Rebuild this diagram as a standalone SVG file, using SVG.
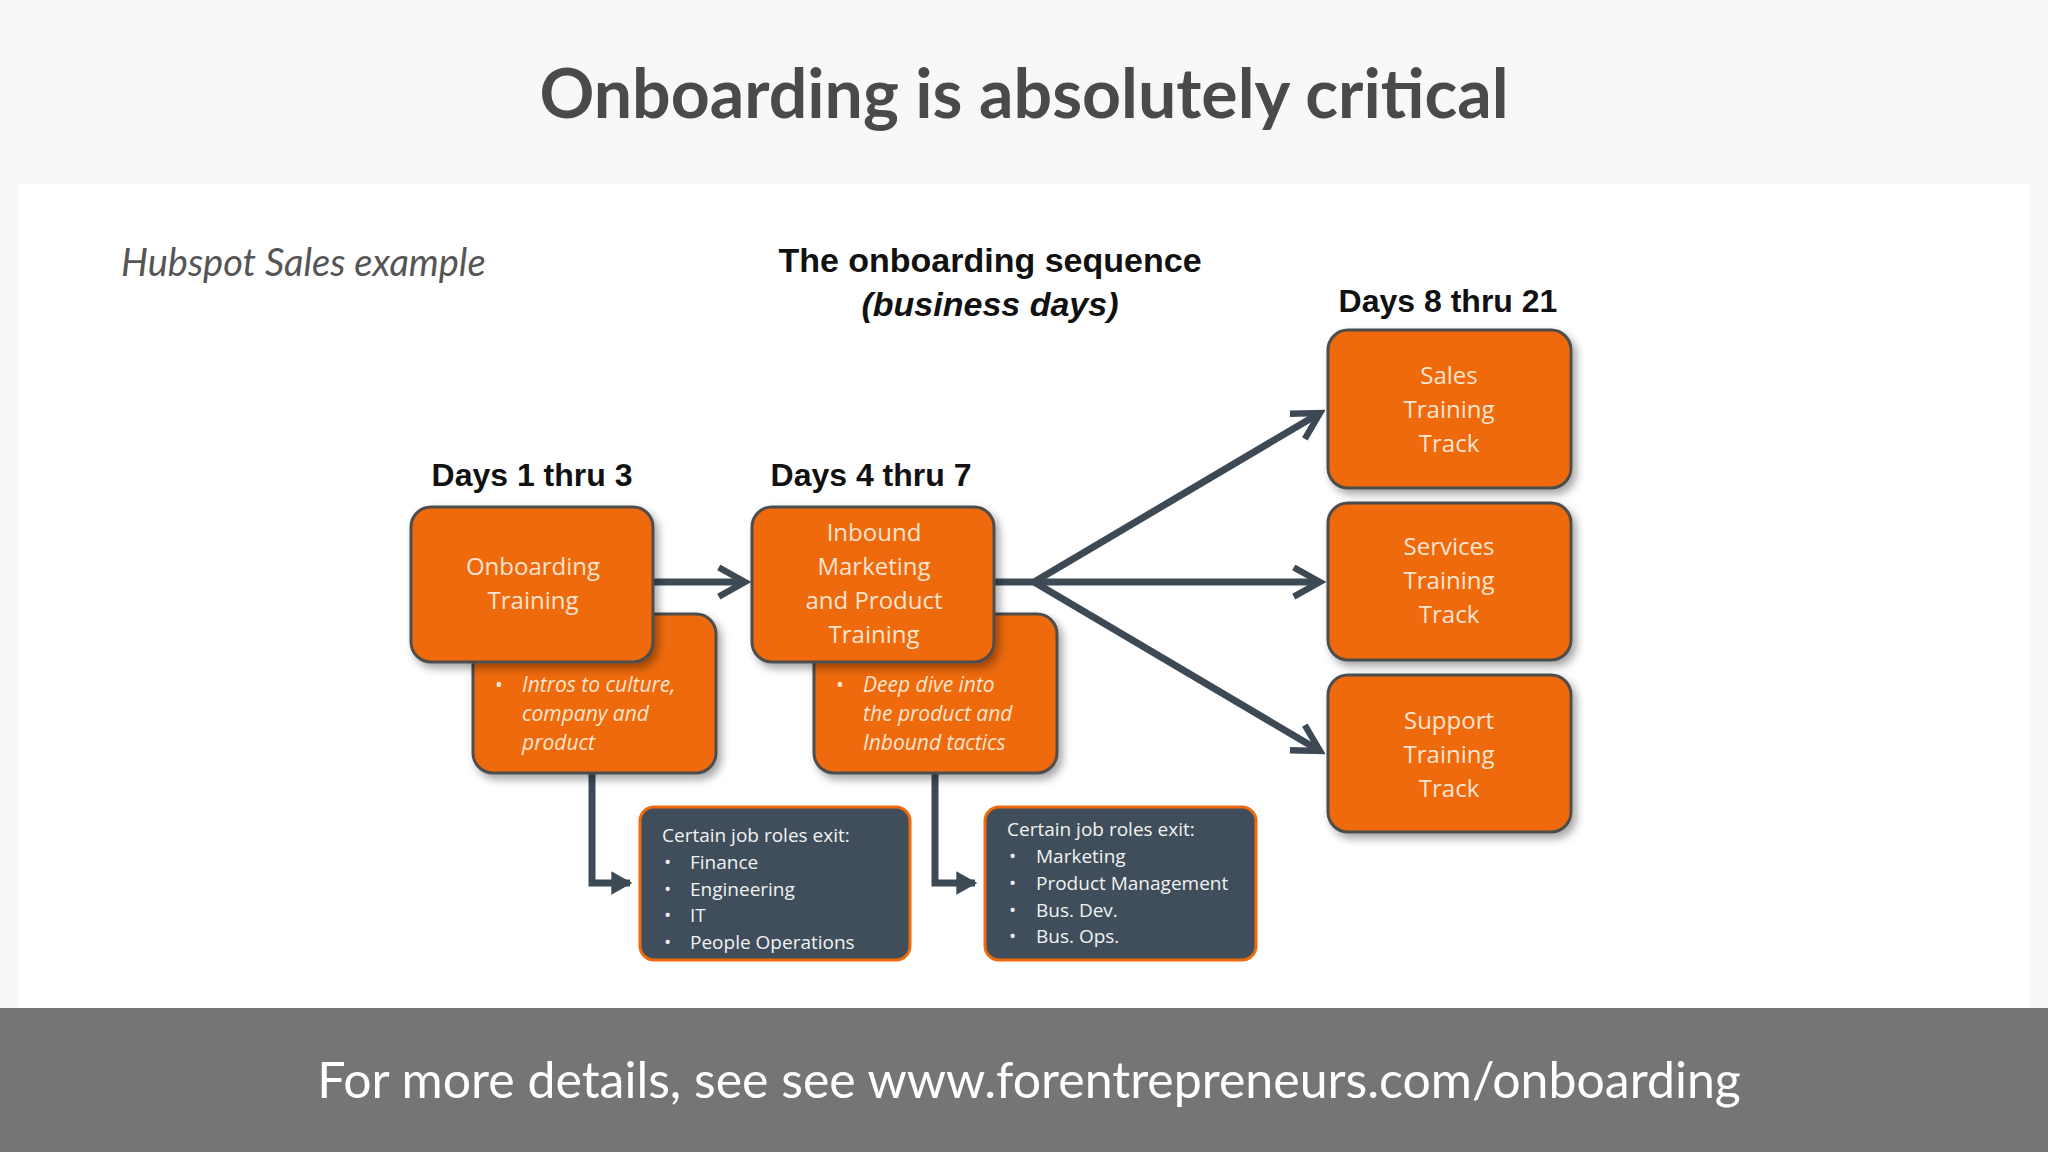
<svg xmlns="http://www.w3.org/2000/svg" width="2048" height="1152" viewBox="0 0 2048 1152">
<defs>
<filter id="sh" x="-20%" y="-20%" width="150%" height="150%"><feDropShadow dx="4" dy="5" stdDeviation="4" flood-color="#000" flood-opacity="0.35"/></filter>
<marker id="ah" viewBox="0 0 12 12" refX="10" refY="6" markerWidth="5" markerHeight="5" orient="auto" markerUnits="strokeWidth"><path d="M1,1 L10,6 L1,11" fill="none" stroke="#3d4a55" stroke-width="2.2"/></marker>
<marker id="ah2" viewBox="0 0 12 12" refX="10" refY="6" markerWidth="4" markerHeight="4" orient="auto" markerUnits="strokeWidth"><path d="M2,1 L11,6 L2,11 Z" fill="#3d4a55"/></marker>
</defs>
<style>
.ob{fill:#ee6a0a;stroke:#4d4d4d;stroke-width:3;filter:url(#sh)}
.db{fill:#3f4e5a;stroke:#ee6a0a;stroke-width:3}
.bt{font-family:"Open Sans","Noto Sans",sans-serif;font-size:24px;fill:#fde4cf;text-anchor:middle}
.it{font-family:"Open Sans","Noto Sans",sans-serif;font-size:21px;fill:#fde4cf;font-style:italic}
.dt{font-family:"Open Sans","Noto Sans",sans-serif;font-size:19px;fill:#f2f2f2}
.hd{font-family:"Liberation Sans",Arial,sans-serif;font-weight:bold;fill:#111;text-anchor:middle}
.cn{fill:none;stroke:#3d4a55;stroke-width:7}
</style>
<rect width="2048" height="1152" fill="#f7f8fa"/>
<rect x="18" y="184" width="2012" height="824" fill="#ffffff"/>
<rect x="0" y="1008" width="2048" height="144" fill="#757575"/>
<text x="1024" y="118" font-family="Lato,sans-serif" font-weight="bold" font-size="68" fill="#4a4a4a" text-anchor="middle">Onboarding is absolutely critical</text>
<text x="1029" y="1098" font-family="Lato,sans-serif" font-size="50" fill="#ffffff" text-anchor="middle">For more details, see see www.forentrepreneurs.com/onboarding</text>
<text x="121" y="276" font-family="Lato,sans-serif" font-style="italic" font-size="38" fill="#555">Hubspot Sales example</text>
<text x="990" y="272" class="hd" font-size="34">The onboarding sequence</text>
<text x="990" y="316" class="hd" font-size="34" font-style="italic">(business days)</text>
<text x="1448" y="312" class="hd" font-size="32">Days 8 thru 21</text>
<text x="532" y="486" class="hd" font-size="32">Days 1 thru 3</text>
<text x="871" y="486" class="hd" font-size="32">Days 4 thru 7</text>
<g id="connectors">
<path class="cn" d="M653,582 H745" marker-end="url(#ah)"/>
<path class="cn" d="M995,582 L1034,582 L1320,413" marker-end="url(#ah)"/>
<path class="cn" d="M1034,582 H1320" marker-end="url(#ah)"/>
<path class="cn" d="M1034,582 L1320,751" marker-end="url(#ah)"/>
<path class="cn" d="M592,773 V883 H630" marker-end="url(#ah2)"/>
<path class="cn" d="M935,773 V883 H975" marker-end="url(#ah2)"/>
</g>
<g id="sub1"><rect class="ob" x="473" y="614" width="243" height="159" rx="20"/>
<text class="it"><tspan x="495" y="692" font-style="normal">•</tspan><tspan x="522" y="692">Intros to culture,</tspan><tspan x="522" y="721">company and</tspan><tspan x="522" y="750">product</tspan></text></g>
<g id="onboarding"><rect class="ob" x="411" y="507" width="242" height="155" rx="20"/>
<text class="bt"><tspan x="533" y="575">Onboarding</tspan><tspan x="533" y="609">Training</tspan></text></g>
<g id="sub2"><rect class="ob" x="814" y="614" width="243" height="159" rx="20"/>
<text class="it"><tspan x="836" y="692" font-style="normal">•</tspan><tspan x="863" y="692">Deep dive into</tspan><tspan x="863" y="721">the product and</tspan><tspan x="863" y="750">Inbound tactics</tspan></text></g>
<g id="inbound"><rect class="ob" x="752" y="507" width="242" height="155" rx="20"/>
<text class="bt"><tspan x="874" y="541">Inbound</tspan><tspan x="874" y="575">Marketing</tspan><tspan x="874" y="609">and Product</tspan><tspan x="874" y="643">Training</tspan></text></g>
<g id="sales"><rect class="ob" x="1328" y="330" width="243" height="158" rx="20"/>
<text class="bt"><tspan x="1449" y="384">Sales</tspan><tspan x="1449" y="418">Training</tspan><tspan x="1449" y="452">Track</tspan></text></g>
<g id="services"><rect class="ob" x="1328" y="503" width="243" height="157" rx="20"/>
<text class="bt"><tspan x="1449" y="555">Services</tspan><tspan x="1449" y="589">Training</tspan><tspan x="1449" y="623">Track</tspan></text></g>
<g id="support"><rect class="ob" x="1328" y="675" width="243" height="157" rx="20"/>
<text class="bt"><tspan x="1449" y="729">Support</tspan><tspan x="1449" y="763">Training</tspan><tspan x="1449" y="797">Track</tspan></text></g>
<g id="exit1"><rect class="db" x="640" y="807" width="270" height="153" rx="14"/>
<text class="dt"><tspan x="662" y="842">Certain job roles exit:</tspan>
<tspan x="664" y="869">•</tspan><tspan x="690" y="869">Finance</tspan>
<tspan x="664" y="896">•</tspan><tspan x="690" y="896">Engineering</tspan>
<tspan x="664" y="922">•</tspan><tspan x="690" y="922">IT</tspan>
<tspan x="664" y="949">•</tspan><tspan x="690" y="949">People Operations</tspan></text></g>
<g id="exit2"><rect class="db" x="985" y="807" width="271" height="153" rx="14"/>
<text class="dt"><tspan x="1007" y="836">Certain job roles exit:</tspan>
<tspan x="1009" y="863">•</tspan><tspan x="1036" y="863">Marketing</tspan>
<tspan x="1009" y="890">•</tspan><tspan x="1036" y="890">Product Management</tspan>
<tspan x="1009" y="917">•</tspan><tspan x="1036" y="917">Bus. Dev.</tspan>
<tspan x="1009" y="943">•</tspan><tspan x="1036" y="943">Bus. Ops.</tspan></text></g>
</svg>
